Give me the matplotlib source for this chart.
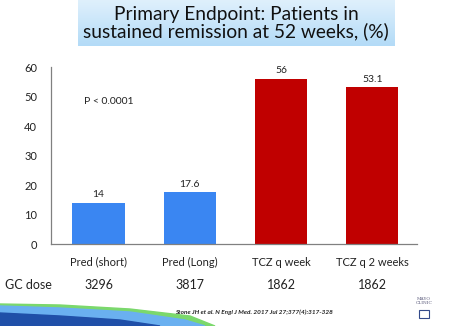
import numpy as np
import matplotlib.pyplot as plt
from matplotlib.patches import Polygon, Rectangle
from matplotlib.colors import LinearSegmentedColormap
import matplotlib.transforms as mtransforms

plt.rcParams['font.family'] = ['Lato', 'DejaVu Sans']

groups = ["Pred (short)", "Pred (Long)", "TCZ q week", "TCZ q 2 weeks"]
remission = [14, 17.6, 56, 53.1]
value_labels = ["14", "17.6", "56", "53.1"]
gc_dose = ["3296", "3817", "1862", "1862"]
bar_colors = ["#3a86f2", "#3a86f2", "#c00000", "#c00000"]

fig = plt.figure(figsize=(4.49, 3.26), dpi=100)
ax = fig.add_axes([0.1136, 0.2515, 0.8154, 0.5425])

x = np.arange(len(groups))
ax.bar(x, remission, width=0.57, color=bar_colors)
for xi, v, lab in zip(x, remission, value_labels):
    ax.text(xi, v + 1.2, lab, ha="center", va="bottom", fontsize=7.5, color="#222222")

ax.set_xlim(-0.52, 3.49)
ax.set_ylim(0, 60)
ax.set_yticks(range(0, 61, 10))
ax.set_xticks(x)
ax.set_xticklabels(groups)
ax.tick_params(axis="both", length=0, labelsize=8, colors="#222222")
ax.tick_params(axis="x", pad=9)
ax.tick_params(axis="y", pad=10)
for side in ("top", "right"):
    ax.spines[side].set_visible(False)
for side in ("left", "bottom"):
    ax.spines[side].set_color("#808080")
    ax.spines[side].set_linewidth(0.9)

ax.text(-0.16, 48.5, "P < 0.0001", fontsize=7.5, color="#222222", va="center")

# glucocorticoid dose row under the category labels
trans = mtransforms.blended_transform_factory(ax.transData, fig.transFigure)
for xi, d in zip(x, gc_dose):
    ax.text(xi, 1 - 285 / 326, d, transform=trans, ha="center", va="center",
            fontsize=9, color="#222222")
fig.text(5 / 449, 1 - 285 / 326, "GC dose", ha="left", va="center",
         fontsize=9, color="#222222")

# title box with light blue gradient
grad = np.linspace(0, 1, 64).reshape(-1, 1)
tax = fig.add_axes([78 / 449, 1 - 46 / 326, 316 / 449, 46 / 326])
tax.imshow(grad, aspect="auto", cmap=LinearSegmentedColormap.from_list(
    "tb", ["#dff0fc", "#b3dbf7"]), extent=[0, 1, 0, 1], origin="upper")
tax.set_axis_off()
tax.text(0.5, 0.5, "Primary Endpoint: Patients in\nsustained remission at 52 weeks, (%)",
         ha="center", va="center", fontsize=13.8, color="#111111", linespacing=1.0)

fig.text(254 / 449, 1 - 312 / 326, "Stone JH et al. N Engl J Med. 2017 Jul 27;377(4):317-328",
         ha="center", va="center", fontsize=4.6, style="italic", weight="bold", color="#222222")

# swoosh at the bottom left
H = 326.0
def fpts(pts):
    return [(px / 449, 1 - py / H) for px, py in pts]
fig.patches.append(Polygon(fpts([(0, 304), (60, 305), (130, 309), (190, 316), (215, 326), (0, 326)]),
                           closed=True, transform=fig.transFigure, color="#7bd86c", zorder=0))
fig.patches.append(Polygon(fpts([(0, 306), (60, 308), (130, 312), (185, 320), (205, 326), (0, 326)]),
                           closed=True, transform=fig.transFigure, color="#6ab0f0", zorder=0))
fig.patches.append(Polygon(fpts([(0, 313), (60, 316), (120, 320), (160, 326), (0, 326)]),
                           closed=True, transform=fig.transFigure, color="#1f4fa8", zorder=0))

# small clinic mark at the bottom right
fig.text(424 / 449, 1 - 301 / 326, "MAYO\nCLINIC", ha="center", va="center", fontsize=3.2,
         family="DejaVu Serif", color="#555577", linespacing=0.9)
fig.patches.append(Rectangle((419 / 449, 1 - 318 / 326), 10 / 449, 8 / 326,
                             transform=fig.transFigure, facecolor="none",
                             edgecolor="#334a8a", linewidth=0.8))

fig.savefig("out.png", dpi=100)
